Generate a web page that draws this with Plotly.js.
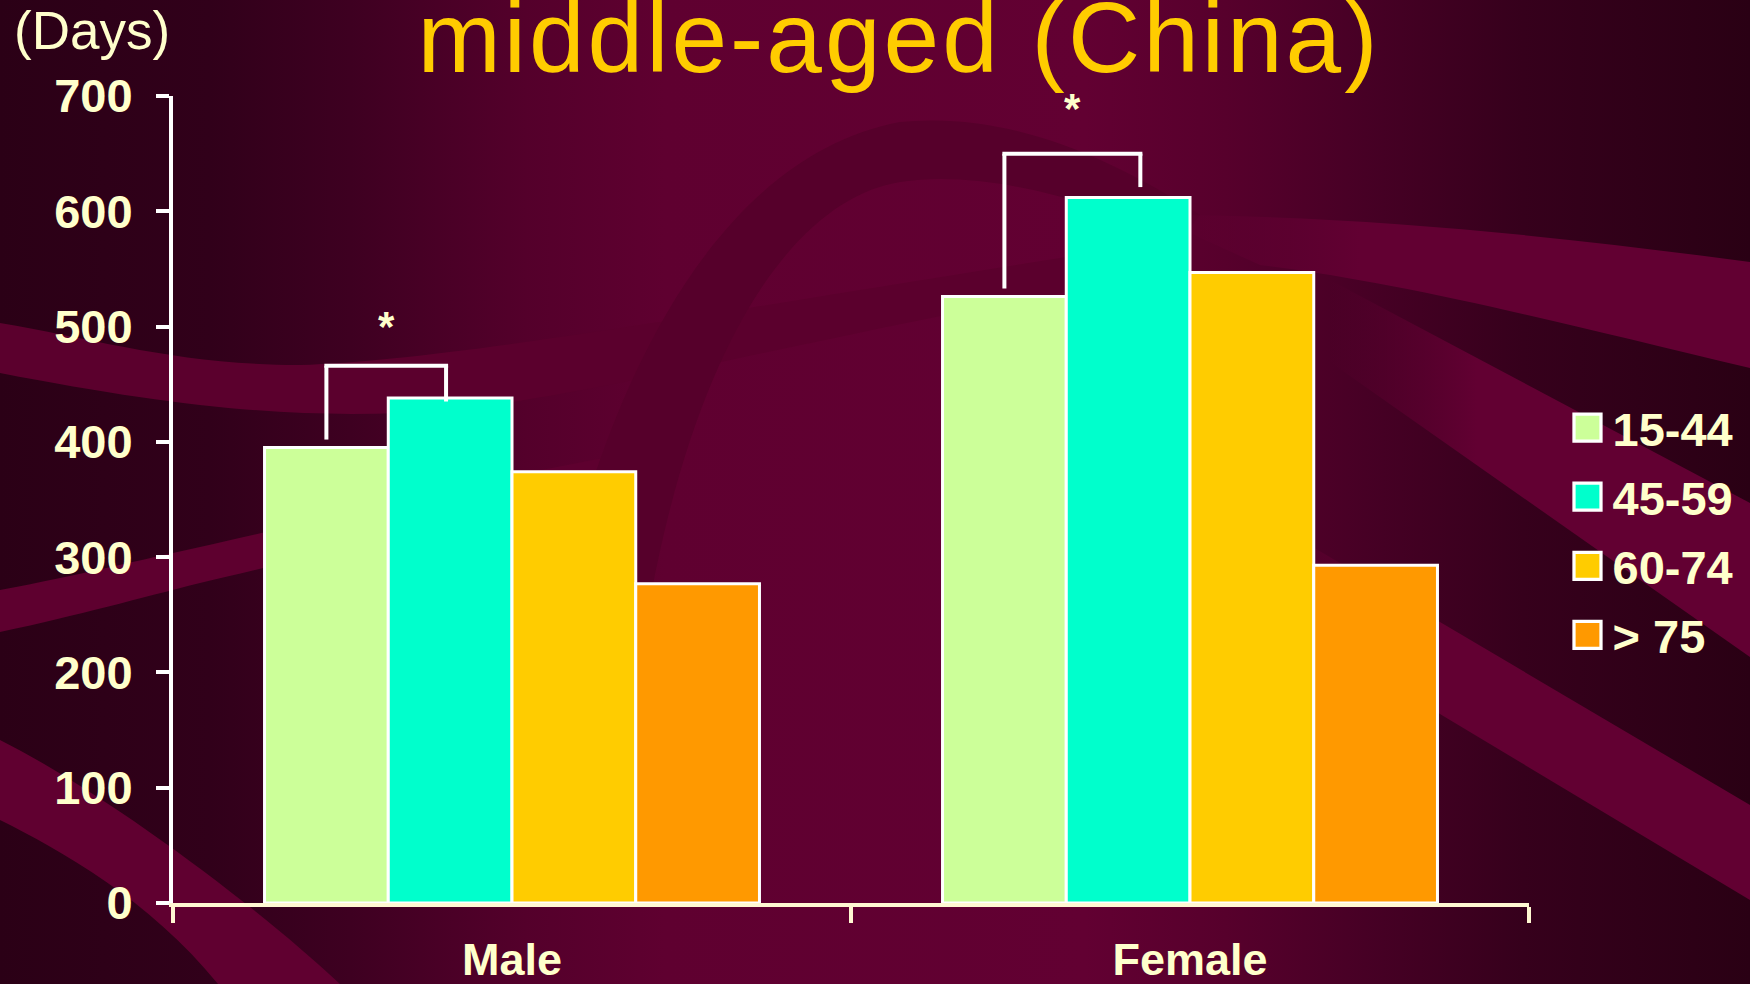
<!DOCTYPE html>
<html>
<head>
<meta charset="utf-8">
<script src="https://cdn.plot.ly/plotly-3.0.1.min.js"></script>
<style>
  html, body { margin: 0; padding: 0; width: 1750px; height: 984px; overflow: hidden; background: #2a0014; }
  #bg { position: absolute; left: 0; top: 0; }
  #chart { position: absolute; left: 0; top: 0; width: 1750px; height: 984px; }
  .gtitle { letter-spacing: 3px; }
</style>
</head>
<body>
<!-- slide backdrop: maroon gradient with soft swooshes -->
<svg id="bg" width="1750" height="984" viewBox="0 0 1750 984">
  <defs>
    <linearGradient id="base" x1="0" y1="0" x2="1" y2="0">
      <stop offset="0" stop-color="#2b0016"/>
      <stop offset="0.12" stop-color="#31001a"/>
      <stop offset="0.2" stop-color="#3e0021"/>
      <stop offset="0.3" stop-color="#54002b"/>
      <stop offset="0.38" stop-color="#5f0030"/>
      <stop offset="0.62" stop-color="#620032"/>
      <stop offset="0.7" stop-color="#57002c"/>
      <stop offset="0.78" stop-color="#470025"/>
      <stop offset="0.87" stop-color="#36001c"/>
      <stop offset="1" stop-color="#2a0014"/>
    </linearGradient>
    <linearGradient id="fadeL" x1="0" y1="0" x2="1" y2="0">
      <stop offset="0" stop-color="#620032" stop-opacity="0"/>
      <stop offset="0.35" stop-color="#620032" stop-opacity="1"/>
      <stop offset="1" stop-color="#620032" stop-opacity="1"/>
    </linearGradient>
  </defs>
  <rect x="0" y="0" width="1750" height="984" fill="url(#base)"/>
  <!-- left swooshes -->
  <path d="M0,323 C100,340 180,365 300,365 C450,360 700,315 1067,257 L1067,292 C800,340 600,395 450,410 C320,420 200,412 0,373 Z" fill="#5b002d"/>
  <path d="M0,590 C80,575 140,560 200,547 C320,520 480,480 620,455 L620,490 C480,515 320,555 200,583 C140,598 80,615 0,632 Z" fill="#5e002f"/>
  <path d="M0,740 C100,790 250,900 340,984 L218,984 C150,900 60,850 0,820 Z" fill="#600030"/>
  <!-- central arc -->
  <path d="M560,600 C600,420 700,160 900,122 C1000,112 1100,150 1200,215 L1180,240 C1080,196 980,170 900,182 C800,198 700,330 650,600 Z" fill="#56002b"/>
  <!-- right swooshes -->
  <path d="M1150,215 C1350,215 1550,235 1750,262 L1750,368 C1550,320 1400,282 1260,265 Z" fill="url(#fadeL)"/>
  <path d="M1330,280 L1750,503 L1750,657 L1330,362 Z" fill="url(#fadeL)"/>
  <path d="M1250,510 L1750,805 L1750,900 L1250,600 Z" fill="url(#fadeL)"/>
</svg>
<div id="chart"></div>
<script>
// Average days per year, by sex and age band
const groups = ['Male', 'Female'];
const ageBands = ['15-44', '45-59', '60-74', '> 75'];
const days_15_44 = [395, 526];
const days_45_59 = [438, 612];
const days_60_74 = [374, 547];
const days_75_up = [277, 293];

const seriesValues = [days_15_44, days_45_59, days_60_74, days_75_up];
const seriesColors = ['#ccff99', '#00ffcc', '#ffcc00', '#ff9900'];

const cream = '#ffffcc';
const axisCream = '#fff8d2';
const font = 'Liberation Sans, Arial, Helvetica, sans-serif';
const BARGAP = 0.27;

const traces = ageBands.map((name, i) => ({
  type: 'bar',
  name: name,
  legendgroup: name,
  x: groups,
  y: seriesValues[i],
  marker: { color: seriesColors[i], line: { color: '#ffffff', width: 3 } },
  hoverinfo: 'x+y+name'
}));

// significance brackets between the 15-44 and 45-59 bars
// (nudge: small sideways shift of the right leg, in category units)
const brackets = [
  { group: 0, top: 466, leftEnd: 402, rightEnd: 435, star: 500, nudge: -0.006 },
  { group: 1, top: 650, leftEnd: 533, rightEnd: 621, star: 689, nudge: 0.018 }
];
const nBars = ageBands.length;
const barW = (1 - BARGAP) / nBars;
const barCenter = (g, s) => g - (1 - BARGAP) / 2 + barW * (s + 0.5);

const shapes = [];
const annotations = [];
brackets.forEach(b => {
  const xa = barCenter(b.group, 0);
  const xb = barCenter(b.group, 1) + b.nudge;
  const line = { color: '#ffffff', width: 4 };
  shapes.push({ type: 'line', xref: 'x', yref: 'y', x0: xa, x1: xa, y0: b.leftEnd, y1: b.top, line });
  shapes.push({ type: 'line', xref: 'x', yref: 'y', x0: xa - 0.003, x1: xb + 0.003, y0: b.top, y1: b.top, line });
  shapes.push({ type: 'line', xref: 'x', yref: 'y', x0: xb, x1: xb, y0: b.top, y1: b.rightEnd, line });
  annotations.push({
    xref: 'x', yref: 'y', x: (xa + xb) / 2, y: b.star, text: '*', showarrow: false,
    xanchor: 'center', yanchor: 'middle',
    font: { family: font, size: 42, color: cream, weight: 'bold' }
  });
});

annotations.push({
  xref: 'paper', yref: 'paper', x: -0.119, y: 1.081, xanchor: 'left', yanchor: 'middle',
  text: '(Days)', showarrow: false,
  font: { family: font, size: 53, color: cream }
});

const layout = {
  width: 1750,
  height: 984,
  margin: { l: 173, r: 219, t: 96, b: 81 },
  paper_bgcolor: 'rgba(0,0,0,0)',
  plot_bgcolor: 'rgba(0,0,0,0)',
  barmode: 'group',
  bargap: BARGAP,
  bargroupgap: 0,
  title: {
    text: 'middle-aged (China)',
    xref: 'container', yref: 'container',
    x: 899 / 1750, xanchor: 'center',
    y: 1 - 37 / 984, yanchor: 'middle',
    font: { family: font, size: 100, color: '#ffcc00' }
  },
  xaxis: {
    type: 'category',
    range: [-0.5, 1.5],
    tickson: 'boundaries',
    ticks: 'outside', ticklen: 16, tickwidth: 4, tickcolor: axisCream,
    showline: true, linecolor: axisCream, linewidth: 4,
    showgrid: false, zeroline: false,
    ticklabelstandoff: 14,
    tickfont: { family: font, size: 45, color: cream, weight: 'bold' }
  },
  yaxis: {
    range: [0, 700],
    dtick: 100,
    ticks: 'outside', ticklen: 13, tickwidth: 4, tickcolor: '#ffffff',
    showline: true, linecolor: '#ffffff', linewidth: 4,
    showgrid: false, zeroline: false,
    ticklabelstandoff: 14,
    tickfont: { family: font, size: 47, color: cream, weight: 'bold' }
  },
  legend: {
    x: 1.0247, xanchor: 'left',
    y: 0.635, yanchor: 'top',
    bgcolor: 'rgba(0,0,0,0)',
    borderwidth: 0,
    itemwidth: 40,
    tracegroupgap: 5,
    font: { family: font, size: 47, color: cream, weight: 'bold' }
  },
  shapes: shapes,
  annotations: annotations,
  showlegend: true
};

Plotly.newPlot('chart', traces, layout, { displayModeBar: false, staticPlot: true }).then(gd => {
  // enlarge the legend swatches, keeping their own placement
  gd.querySelectorAll('.legend .legendpoints path').forEach(p => {
    const t = p.getAttribute('transform') || '';
    p.setAttribute('transform', t + ' scale(2.25)');
    p.style.strokeWidth = '1.45px';
  });
});
</script>
</body>
</html>
